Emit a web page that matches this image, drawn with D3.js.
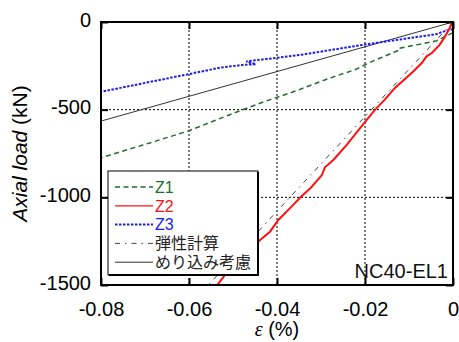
<!DOCTYPE html>
<html>
<head>
<meta charset="utf-8">
<script src="https://cdn.jsdelivr.net/npm/d3@7"></script>
<style>
  html, body { margin: 0; padding: 0; background: #fff; }
  svg { display: block; font-family: Arial, "Liberation Sans", sans-serif; }
</style>
</head>
<body>
<div id="chart"></div>
<script>
const { d3 } = window;

// values (strain %, axial load kN)
const xTicks = [-0.08, -0.06, -0.04, -0.02, 0];
const yTicks = [0, -500, -1000, -1500];

const z1Strain = [0, -0.0005, -0.0037, -0.0126, -0.0126, -0.0192, -0.0223, -0.0280, -0.0357, -0.0434, -0.0509, -0.0602, -0.0705, -0.0800];
const z1Load = [-62, -66, -107, -152, -164, -234, -272, -320, -393, -459, -530, -622, -702, -774];

const z2Strain = [0, -0.0018, -0.0030, -0.0048, -0.0060, -0.0071, -0.0094, -0.0132, -0.0155, -0.0177, -0.0208, -0.0242, -0.0272, -0.0291, -0.0298, -0.0323, -0.0346, -0.0367, -0.0397, -0.0416, -0.0441, -0.0518, -0.0545];
const z2Load = [0, -82, -129, -177, -196, -234, -291, -376, -443, -500, -595, -702, -787, -829, -873, -945, -998, -1053, -1129, -1196, -1249, -1443, -1530];

const z3Strain = [0, -0.0022, -0.0039, -0.0196, -0.0348, -0.0470, -0.0448, -0.0475, -0.0530, -0.0602, -0.0800];
const z3Load = [-40, -55, -70, -127, -188, -225, -241, -244, -261, -298, -398];

const elasticStrain = [0, -0.0556];
const elasticLoad = [0, -1500];

const embedStrain = [0, -0.08];
const embedLoad = [0, -565];

const legendLabels = ['Z1', 'Z2', 'Z3', '弾性計算', 'めり込み考慮'];

const W = 459;
const H = 342;
const margin = { top: 22, right: 6, bottom: 57, left: 101 };
const plotW = W - margin.left - margin.right;
const plotH = H - margin.top - margin.bottom;

const x = d3.scaleLinear().domain([-0.08, 0]).range([0, plotW]);
const y = d3.scaleLinear().domain([-1500, 0]).range([plotH, 0]);

const svg = d3.select('#chart').append('svg')
  .attr('width', W)
  .attr('height', H);

svg.append('defs').append('clipPath')
  .attr('id', 'plotClip')
  .append('rect')
  .attr('width', plotW)
  .attr('height', plotH);

const g = svg.append('g')
  .attr('transform', `translate(${margin.left},${margin.top})`);

// dotted grid
g.append('g')
  .selectAll('line')
  .data(xTicks.slice(1, -1))
  .join('line')
  .attr('x1', d => x(d)).attr('x2', d => x(d))
  .attr('y1', 0).attr('y2', plotH)
  .attr('stroke', '#000')
  .attr('stroke-width', 1)
  .attr('stroke-dasharray', '2,2');

g.append('g')
  .selectAll('line')
  .data(yTicks.slice(1, -1))
  .join('line')
  .attr('x1', 0).attr('x2', plotW)
  .attr('y1', d => y(d)).attr('y2', d => y(d))
  .attr('stroke', '#000')
  .attr('stroke-width', 1)
  .attr('stroke-dasharray', '2,2');

// series
const series = [
  { xs: z1Strain, ys: z1Load, color: '#1e6e2c', width: 1.5, dash: '5,3.5' },
  { xs: z2Strain, ys: z2Load, color: '#ff1010', width: 2, dash: null },
  { xs: z3Strain, ys: z3Load, color: '#1a1aff', width: 2, dash: '2.5,1.5' },
  { xs: elasticStrain, ys: elasticLoad, color: '#444', width: 1, dash: '5,5,1.5,5' },
  { xs: embedStrain, ys: embedLoad, color: '#333', width: 1, dash: null }
];

const line = d3.line()
  .x(d => x(d[0]))
  .y(d => y(d[1]));

const lines = g.append('g').attr('clip-path', 'url(#plotClip)');
[series[3], series[4], series[0], series[2], series[1]].forEach(s => {
  lines.append('path')
    .datum(s.xs.map((v, i) => [v, s.ys[i]]))
    .attr('d', line)
    .attr('fill', 'none')
    .attr('stroke', s.color)
    .attr('stroke-width', s.width)
    .attr('stroke-dasharray', s.dash);
});

// axes with inward ticks on all sides
const tickStyle = sel => {
  sel.select('.domain').remove();
  sel.selectAll('.tick line').attr('stroke', '#000').attr('stroke-width', 2);
};

g.append('g')
  .attr('transform', `translate(0,${plotH})`)
  .call(d3.axisBottom(x).tickValues(xTicks).tickSizeInner(-7).tickSizeOuter(0).tickPadding(17)
    .tickFormat(d => (d === 0 ? '0' : d3.format('.2f')(d).replace('−', '-'))))
  .call(tickStyle)
  .call(a => a.selectAll('text').attr('font-size', 20).attr('fill', '#000').attr('font-family', 'Arial, "Liberation Sans", sans-serif'));

g.append('g')
  .call(d3.axisTop(x).tickValues(xTicks).tickSizeInner(-7).tickSizeOuter(0).tickFormat(''))
  .call(tickStyle);

g.append('g')
  .call(d3.axisLeft(y).tickValues(yTicks).tickSizeInner(-7).tickSizeOuter(0).tickPadding(10)
    .tickFormat(d => String(d)))
  .call(tickStyle)
  .call(a => a.selectAll('text').attr('font-size', 20).attr('fill', '#000').attr('dy', '0.2em')
    .attr('font-family', 'Arial, "Liberation Sans", sans-serif'));

g.append('g')
  .attr('transform', `translate(${plotW},0)`)
  .call(d3.axisRight(y).tickValues(yTicks).tickSizeInner(-7).tickSizeOuter(0).tickFormat(''))
  .call(tickStyle);

// frame
g.append('rect')
  .attr('width', plotW)
  .attr('height', plotH)
  .attr('fill', 'none')
  .attr('stroke', '#000')
  .attr('stroke-width', 2);

// legend
const legend = g.append('g').attr('transform', `translate(${108 - margin.left},${171 - margin.top})`);
const legW = 150;
const legH = 104;
legend.append('rect')
  .attr('width', legW)
  .attr('height', legH)
  .attr('fill', '#fff')
  .attr('stroke', '#000')
  .attr('stroke-width', 1);
legend.append('path')
  .attr('d', `M${legW},1V${legH}H1`)
  .attr('fill', 'none')
  .attr('stroke', '#000')
  .attr('stroke-width', 2);

const textColors = ['#1e6e2c', '#ff1010', '#1a1aff', '#222', '#222'];
legendLabels.forEach((label, i) => {
  const s = series[i];
  const cy = 16 + i * 18.8;
  legend.append('line')
    .attr('x1', 7).attr('x2', 45)
    .attr('y1', cy).attr('y2', cy)
    .attr('stroke', s.color)
    .attr('stroke-width', i === 1 ? 1.2 : s.width)
    .attr('stroke-dasharray', s.dash);
  legend.append('text')
    .attr('x', 47)
    .attr('y', cy)
    .attr('dy', '0.36em')
    .attr('font-size', 16)
    .attr('fill', textColors[i])
    .attr('font-family', i < 3 ? 'Arial, "Liberation Sans", sans-serif' : '"Noto Sans CJK JP", sans-serif')
    .text(label);
});

// specimen label
g.append('text')
  .attr('x', plotW - 5)
  .attr('y', plotH - 7)
  .attr('text-anchor', 'end')
  .attr('font-size', 20)
  .attr('fill', '#111')
  .text('NC40-EL1');

// axis titles
const yTitle = svg.append('text')
  .attr('transform', `translate(27,${margin.top + plotH / 2}) rotate(-90)`)
  .attr('text-anchor', 'middle')
  .attr('font-size', 21)
  .attr('fill', '#000');
yTitle.append('tspan').attr('font-style', 'italic').text('Axial load');
yTitle.append('tspan').text(' (kN)');

const xTitle = svg.append('text')
  .attr('x', margin.left + plotW / 2)
  .attr('y', 336)
  .attr('text-anchor', 'middle')
  .attr('font-size', 20)
  .attr('fill', '#000');
xTitle.append('tspan').attr('font-style', 'italic').attr('font-family', '"Times New Roman", "Liberation Serif", serif').text('ε');
xTitle.append('tspan').text(' (%)');
</script>
</body>
</html>
